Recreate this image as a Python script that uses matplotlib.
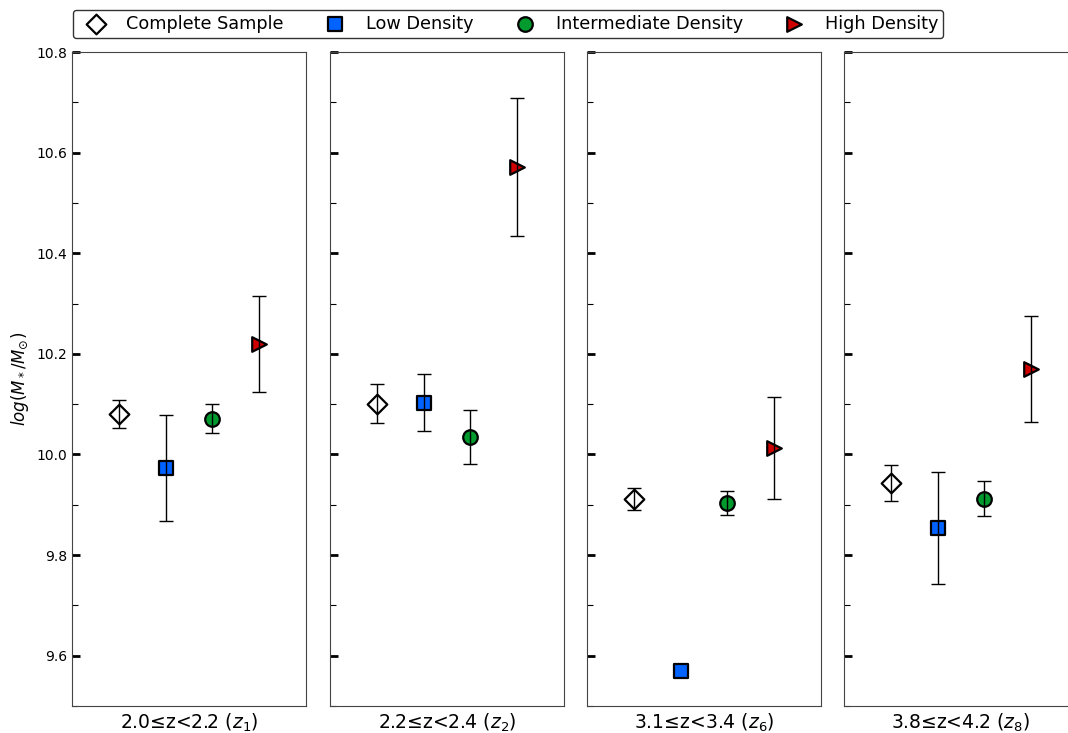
import numpy as np
import matplotlib
matplotlib.use('Agg')
import matplotlib.pyplot as plt

# bins de redshift
etiquetas_z = ['2.0≤z<2.2 ($z_1$)', '2.2≤z<2.4 ($z_2$)',
               '3.1≤z<3.4 ($z_6$)', '3.8≤z<4.2 ($z_8$)']

# valores log(M*/Msun) por muestra, un valor por bin
completa = [10.081, 10.101, 9.912, 9.944]
completa_err = [0.028, 0.039, 0.022, 0.036]
baja = [9.973, 10.103, 9.570, 9.854]
baja_err = [0.105, 0.056, 0.0, 0.112]
intermedia = [10.071, 10.035, 9.904, 9.912]
intermedia_err = [0.029, 0.053, 0.024, 0.035]
alta = [10.220, 10.572, 10.013, 10.170]
alta_err = [0.095, 0.137, 0.102, 0.105]

muestras = [
    ("Complete Sample", completa, completa_err, 'D', 'white'),
    ("Low Density", baja, baja_err, 's', '#0062ff'),
    ("Intermediate Density", intermedia, intermedia_err, 'o', '#009a2e'),
    ("High Density", alta, alta_err, '>', '#d00000'),
]

fig = plt.figure(figsize=(10.68, 7.33), dpi=100)

lefts = [72, 330, 587, 844]
ancho = 234
ejes = []
for i, l in enumerate(lefts):
    ax = fig.add_axes([l / 1068, 27 / 733, ancho / 1068, 654 / 733])
    ejes.append(ax)
    for j, (nombre, vals, errs, mk, col) in enumerate(muestras):
        ax.scatter(j + 1, vals[i], marker=mk, s=110 if mk != 'D' else 100,
                   facecolor=col, edgecolor='black', linewidths=1.6,
                   zorder=2, label=nombre)
        if errs[i] > 0:
            ax.errorbar(j + 1, vals[i], yerr=errs[i], fmt='none',
                        ecolor='black', elinewidth=1.0, capsize=5,
                        capthick=1.0, zorder=3)
    ax.set_xlim(0, 5)
    ax.set_ylim(9.5, 10.8)
    ax.set_xticks([])
    ax.set_yticks(np.arange(9.6, 10.81, 0.2))
    ax.set_yticks(np.arange(9.5, 10.81, 0.1), minor=True)
    ax.tick_params(axis='y', which='major', direction='in', length=6, width=2,
                   labelsize=10)
    ax.tick_params(axis='y', which='minor', direction='in', length=4, width=0.8)
    ax.set_xlabel(etiquetas_z[i], fontsize=13.5, labelpad=4)
    for s in ax.spines.values():
        s.set_color('#444444')
    if i > 0:
        ax.tick_params(axis='y', labelleft=False)

ejes[0].set_ylabel(r'$log(M_*/M_{\odot})$', fontsize=12)

h, lab = ejes[0].get_legend_handles_labels()
fig.legend(h, lab, ncol=4, loc='center', bbox_to_anchor=(508 / 1068, 1 - 24 / 733),
           fontsize=12.7, frameon=True, edgecolor='black', handletextpad=0.75,
           columnspacing=1.9, borderpad=0.3)

fig.savefig('out.png', dpi=100)
